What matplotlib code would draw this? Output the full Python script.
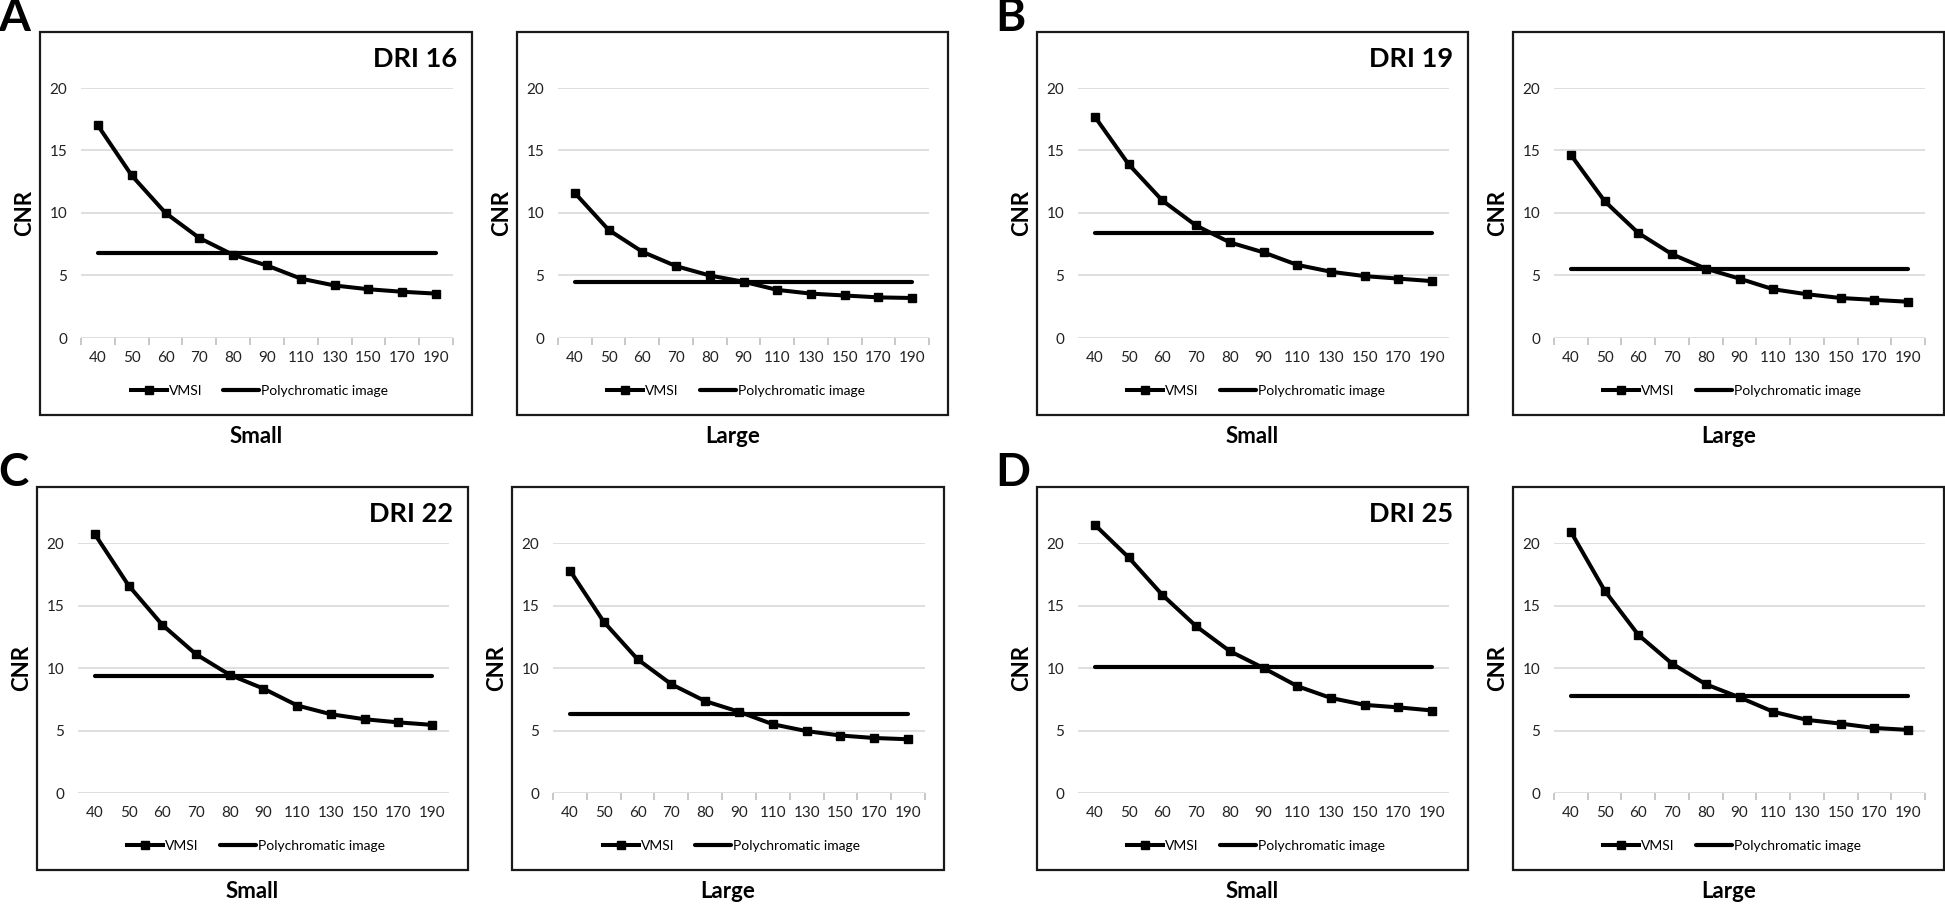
import matplotlib
matplotlib.use('Agg')
import matplotlib.pyplot as plt
from matplotlib.patches import Rectangle

plt.rcParams['font.family'] = ['Lato', 'DejaVu Sans']

energies = ['40', '50', '60', '70', '80', '90', '110', '130', '150', '170', '190']

# CNR, one list per DRI / lesion size
vmsi_dri16_small = [17.0, 13.0, 10.0, 8.0, 6.65, 5.8, 4.75, 4.2, 3.9, 3.7, 3.55]
vmsi_dri16_large = [11.6, 8.65, 6.9, 5.75, 5.0, 4.5, 3.85, 3.55, 3.4, 3.25, 3.2]
vmsi_dri19_small = [17.7, 13.9, 11.0, 9.0, 7.65, 6.85, 5.85, 5.3, 4.95, 4.75, 4.55]
vmsi_dri19_large = [14.65, 10.95, 8.4, 6.7, 5.55, 4.75, 3.9, 3.5, 3.2, 3.05, 2.9]
vmsi_dri22_small = [20.7, 16.6, 13.45, 11.1, 9.45, 8.35, 7.0, 6.3, 5.9, 5.65, 5.45]
vmsi_dri22_large = [17.8, 13.7, 10.7, 8.7, 7.35, 6.5, 5.5, 4.95, 4.6, 4.4, 4.3]
vmsi_dri25_small = [21.45, 18.85, 15.85, 13.35, 11.35, 10.0, 8.55, 7.6, 7.05, 6.85, 6.6]
vmsi_dri25_large = [20.9, 16.2, 12.65, 10.35, 8.7, 7.65, 6.5, 5.85, 5.55, 5.2, 5.05]

poly_dri16 = [6.8, 4.45]
poly_dri19 = [8.4, 5.5]
poly_dri22 = [9.35, 6.3]
poly_dri25 = [10.1, 7.8]

panel_letters = ['A', 'B', 'C', 'D']
dri_labels = ['DRI 16', 'DRI 19', 'DRI 22', 'DRI 25']
size_labels = ['Small', 'Large']

vmsi = [[vmsi_dri16_small, vmsi_dri16_large], [vmsi_dri19_small, vmsi_dri19_large],
        [vmsi_dri22_small, vmsi_dri22_large], [vmsi_dri25_small, vmsi_dri25_large]]
poly = [poly_dri16, poly_dri19, poly_dri22, poly_dri25]

W, H = 1945, 905
fig = plt.figure(figsize=(W / 100, H / 100), dpi=100)


def fx(px):
    return px / W


def fy(py):
    return 1 - py / H


# box positions in pixels (left, right) for each of the 4 columns, per row
box_x = [[(40, 472), (517, 948), (1037, 1468), (1513, 1944)],
         [(37, 468), (512, 944), (1037, 1468), (1513, 1944)]]
box_top = [32, 487]
letter_pos = [(0, 0), (997, 0), (0, 455), (997, 455)]
show_ticks = [[True, True], [False, True], [False, True], [False, True]]

for g in range(4):
    row = g // 2
    for s in range(2):
        col = (g % 2) * 2 + s
        left, right = box_x[row][col]
        top = box_top[row]
        bottom = top + 383

        # outer frame of each chart
        fig.add_artist(Rectangle((fx(left), fy(bottom)), fx(right - left), (bottom - top) / H,
                                 transform=fig.transFigure, fill=False, edgecolor='#1a1a1a',
                                 linewidth=1.6))

        pl, pr = left + 41, right - 19
        pt, pb = top + 56, top + 306
        ax = fig.add_axes([fx(pl), fy(pb), fx(pr - pl), (pb - pt) / H])
        for sp in ax.spines.values():
            sp.set_visible(False)

        x = list(range(len(energies)))
        ax.plot(x, [poly[g][s]] * len(x), color='black', linewidth=3.0,
                solid_capstyle='round', label='Polychromatic image', clip_on=False, zorder=3)
        ax.plot(x, vmsi[g][s], color='black', linewidth=2.9, marker='s', markersize=6.2,
                label='VMSI', clip_on=False, zorder=4)

        ax.set_xlim(-0.5, len(energies) - 0.5)
        ax.set_ylim(0, 20)
        ax.set_yticks([0, 5, 10, 15, 20])
        ax.grid(axis='y', color='#d9d9d9', linewidth=1.2)
        ax.set_axisbelow(True)
        ax.set_xticks(x, energies)
        ax.tick_params(axis='both', length=0, labelsize=11, colors='#222222', pad=9)
        ax.tick_params(axis='y', pad=10)
        if show_ticks[g][s]:
            ax.set_xticks([i - 0.5 for i in range(len(energies) + 1)], minor=True)
            ax.tick_params(axis='x', which='minor', length=5, color='#bfbfbf', width=1.2)

        # CNR label sits just outside the frame, left of the box
        fig.text(fx(left - 15), fy((pt + pb) / 2), 'CNR', rotation=90, ha='center',
                 va='center', fontsize=16, fontweight='bold')

        handles, labels = ax.get_legend_handles_labels()
        ax.legend(handles[::-1], labels[::-1], loc='center', bbox_to_anchor=(0.48, -0.212),
                  ncol=2, frameon=False, fontsize=10, handlelength=2.6, columnspacing=1.5,
                  handletextpad=0.15)

        fig.text(fx((left + right) / 2), fy(bottom + 21), size_labels[s], ha='center',
                 va='center', fontsize=16, fontweight='bold')

        if s == 0:
            fig.text(fx(right - 15), fy(top + 27), dri_labels[g], ha='right', va='center',
                     fontsize=19.5, fontweight='bold')

    lx, ly = letter_pos[g]
    fig.text(fx(lx - 2), fy(ly - 3), panel_letters[g], ha='left', va='top', fontsize=33,
             fontweight='bold')

fig.savefig('out.png', dpi=100)
